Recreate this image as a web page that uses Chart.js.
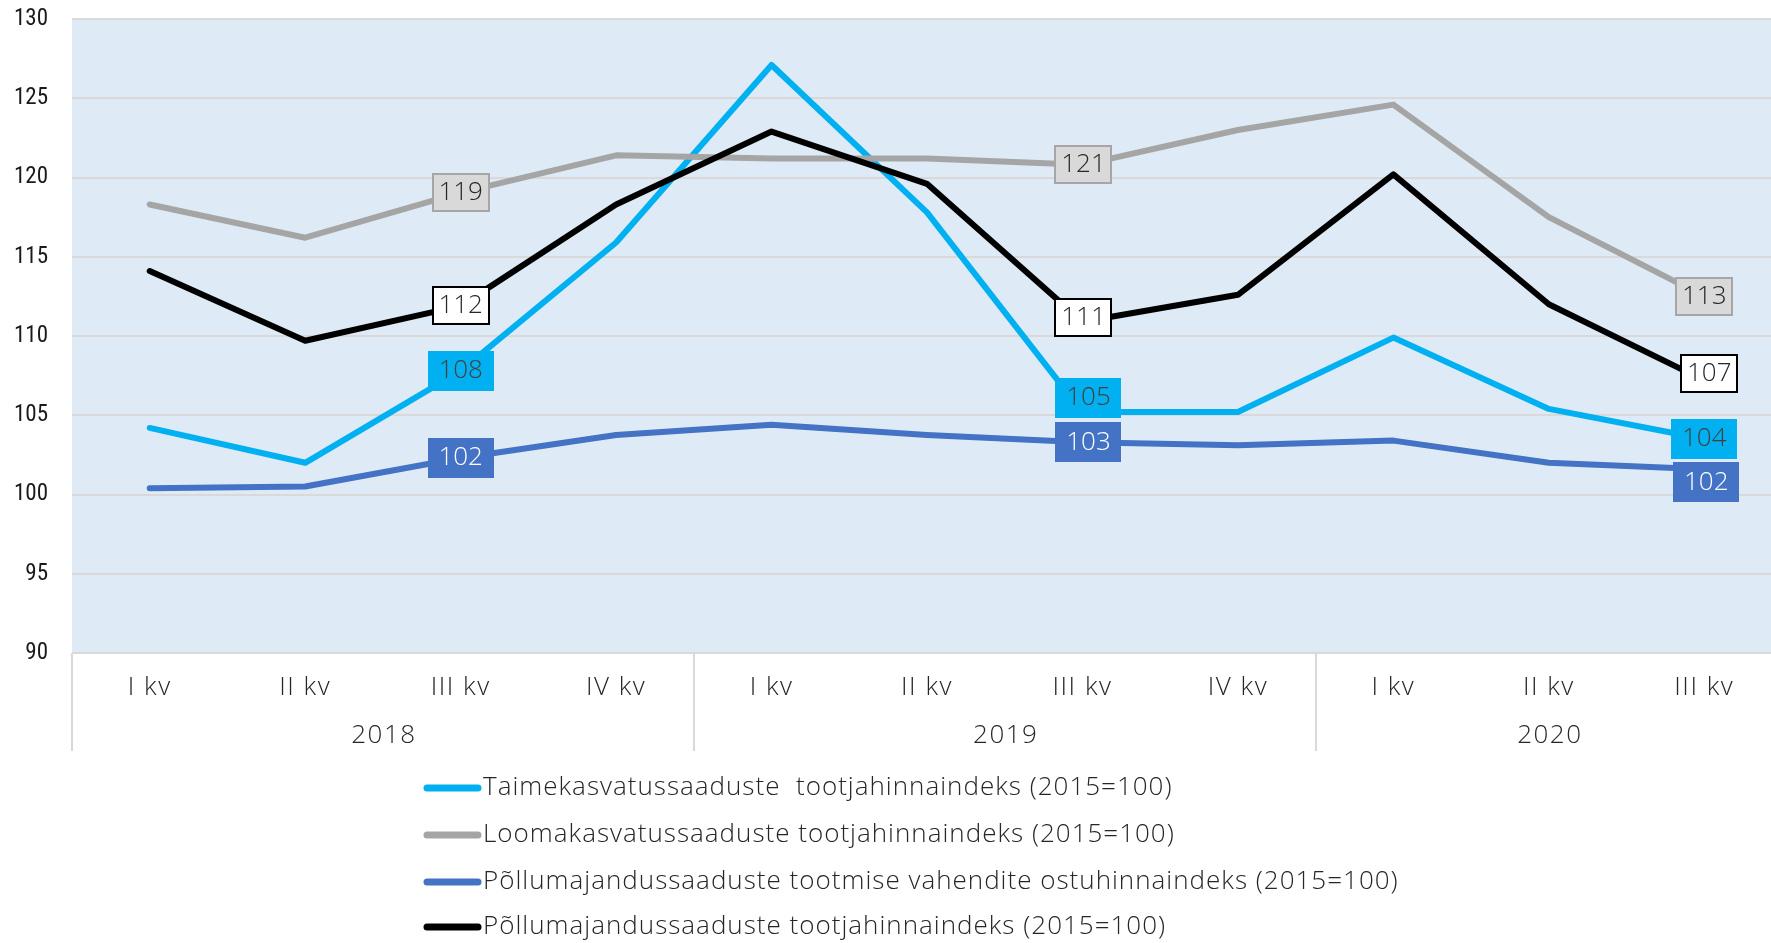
<!DOCTYPE html>
<html><head><meta charset="utf-8">
<script src="https://cdn.jsdelivr.net/npm/chart.js@4.4.1/dist/chart.umd.min.js"></script>
<style>html,body{margin:0;padding:0;overflow:hidden;background:#fff;width:1771px;height:943px}canvas{display:block}</style>
</head><body>
<canvas id="c" width="1782" height="943"></canvas>
<script>
// ---- data ----
const quarters = ['I kv','II kv','III kv','IV kv','I kv','II kv','III kv','IV kv','I kv','II kv','III kv'];
const years = ['2018','2019','2020'];
const yearSpans = [4, 4, 3];
const taimeIndex  = [104.2, 102.0, 107.8, 115.9, 127.1, 117.8, 105.2, 105.2, 109.9, 105.4, 103.5];
const loomaIndex  = [118.3, 116.2, 119.05, 121.4, 121.2, 121.2, 120.8, 123.0, 124.6, 117.5, 112.5];
const vahendIndex = [100.4, 100.5, 102.3, 103.75, 104.4, 103.75, 103.3, 103.1, 103.4, 102.0, 101.6];
const pollIndex   = [114.1, 109.7, 111.9, 118.3, 122.9, 119.6, 110.9, 112.6, 120.2, 112.0, 107.2];
const seriesNames = [
  'Taimekasvatussaaduste  tootjahinnaindeks (2015=100)',
  'Loomakasvatussaaduste tootjahinnaindeks (2015=100)',
  'Põllumajandussaaduste tootmise vahendite ostuhinnaindeks (2015=100)',
  'Põllumajandussaaduste tootjahinnaindeks (2015=100)'
];
const labelledPoints = [2, 6, 10];
const yMin = 90, yMax = 130, yStep = 5;

// ---- styling ----
const lineColors = ['#00b0f0', '#a5a5a5', '#4472c4', '#000000'];
const labelStyles = [
  {bg:'#00b0f0', border:null, color:'#404040', w:66, h:40},
  {bg:'#d9d9d9', border:'#a6a6a6', color:'#262626', w:58, h:39},
  {bg:'#4472c4', border:null, color:'#ffffff', w:66, h:40},
  {bg:'#ffffff', border:'#000000', color:'#262626', w:58, h:39}
];
const labelShift = {'0-6':[6,-14], '2-6':[6,0], '2-10':[2,13], '3-10':[5,-7], '3-6':[1,-4], '1-6':[1,0]};
const thinFont = '"Open Sans", Lato, sans-serif';
const condFont = '"Liberation Sans Narrow", "Roboto Condensed", Roboto, sans-serif';

const bgPlugin = {
  id: 'bg',
  beforeDraw(chart) {
    const {ctx, chartArea: a} = chart;
    ctx.save();
    ctx.fillStyle = '#deebf7';
    ctx.fillRect(a.left, a.top, a.right - a.left, a.bottom - a.top);
    ctx.restore();
  }
};

const groupPlugin = {
  id: 'groups',
  afterDraw(chart) {
    const {ctx, chartArea: a} = chart;
    const x = chart.scales.x;
    const cw = x.getPixelForValue(1) - x.getPixelForValue(0);
    ctx.save();
    ctx.strokeStyle = '#d9d9d9';
    ctx.lineWidth = 2;
    let start = 0;
    ctx.font = '300 26px ' + thinFont;
    ctx.letterSpacing = '1.5px';
    ctx.fillStyle = '#262626';
    ctx.textAlign = 'center';
    ctx.textBaseline = 'middle';
    years.forEach((yr, g) => {
      const end = start + yearSpans[g] - 1;
      const left = x.getPixelForValue(start) - cw / 2;
      const right = x.getPixelForValue(end) + cw / 2;
      ctx.beginPath();
      ctx.moveTo(Math.round(left), a.bottom);
      ctx.lineTo(Math.round(left), 751);
      ctx.stroke();
      ctx.fillText(yr, (left + right) / 2 + 1, 736);
      start = end + 1;
    });
    ctx.restore();
  }
};

const labelPlugin = {
  id: 'vlabels',
  afterDatasetsDraw(chart) {
    const ctx = chart.ctx;
    ctx.save();
    ctx.font = '300 26px ' + thinFont;
    ctx.textAlign = 'center';
    ctx.textBaseline = 'middle';
    chart.data.datasets.forEach((ds, di) => {
      const meta = chart.getDatasetMeta(di);
      const st = labelStyles[di];
      labelledPoints.forEach(i => {
        const el = meta.data[i];
        const sh = labelShift[di + '-' + i] || [0, 0];
        const cx = el.x + sh[0], cy = el.y + sh[1];
        const l = Math.round(cx - st.w / 2), t = Math.round(cy - st.h / 2);
        ctx.fillStyle = st.bg;
        ctx.fillRect(l, t, st.w, st.h);
        if (st.border) {
          ctx.strokeStyle = st.border;
          ctx.lineWidth = 2;
          ctx.strokeRect(l + 1, t + 1, st.w - 2, st.h - 2);
        }
        ctx.fillStyle = st.color;
        ctx.fillText(String(Math.round(ds.data[i])), cx, cy);
      });
    });
    ctx.restore();
  }
};

const legendPlugin = {
  id: 'customLegend',
  afterDraw(chart) {
    const ctx = chart.ctx;
    const rows = [788, 835, 882, 927];
    ctx.save();
    ctx.font = '300 26px ' + thinFont;
    ctx.letterSpacing = '1px';
    ctx.textAlign = 'left';
    ctx.textBaseline = 'middle';
    chart.data.datasets.forEach((ds, i) => {
      const y = rows[i];
      ctx.strokeStyle = ds.borderColor;
      ctx.lineWidth = 7;
      ctx.lineCap = 'round';
      ctx.beginPath();
      ctx.moveTo(427, y);
      ctx.lineTo(478, y);
      ctx.stroke();
      ctx.fillStyle = '#262626';
      ctx.fillText(ds.label, 483, y);
    });
    ctx.restore();
  }
};

const datasets = [taimeIndex, loomaIndex, vahendIndex, pollIndex].map((d, i) => ({
  label: seriesNames[i],
  data: d,
  borderColor: lineColors[i],
  backgroundColor: lineColors[i],
  borderWidth: 6,
  pointRadius: 0,
  pointHoverRadius: 0,
  borderJoinStyle: 'round',
  borderCapStyle: 'round',
  tension: 0,
  order: 4 - i
}));

function spacedDraw(s, spacing) {
  if (s._spacedWrapped) return;
  const orig = Object.getPrototypeOf(s).draw;
  s.draw = function (area) {
    const ctx = this.ctx;
    ctx.save();
    ctx.letterSpacing = spacing;
    orig.call(this, area);
    ctx.restore();
  };
  s._spacedWrapped = true;
}

new Chart(document.getElementById('c'), {
  type: 'line',
  data: { labels: quarters, datasets },
  plugins: [bgPlugin, labelPlugin, groupPlugin, legendPlugin],
  options: {
    responsive: false,
    animation: false,
    devicePixelRatio: 1,
    layout: { padding: { top: 19, left: 0, right: 0, bottom: 0 } },
    plugins: { legend: { display: false }, tooltip: { enabled: false } },
    scales: {
      x: {
        offset: true,
        grid: { display: false, drawTicks: false },
        border: { display: false },
        ticks: {
          padding: 19,
          autoSkip: false,
          maxRotation: 0,
          color: '#262626',
          font: { family: thinFont, size: 26, weight: 300 }
        },
        afterFit(s) { s.height = 290; s.paddingLeft = 0; s.paddingRight = 0; spacedDraw(s, '1.5px'); }
      },
      y: {
        min: yMin, max: yMax,
        grid: { color: '#d9d9d9', lineWidth: 2, drawTicks: false },
        border: { display: false },
        ticks: {
          stepSize: yStep,
          padding: 24,
          color: '#1a1a1a',
          font: { family: condFont, size: 23 }
        },
        afterFit(s) { s.width = 72; s.paddingTop = 0; s.paddingBottom = 0; }
      }
    }
  }
});
</script>
</body></html>
